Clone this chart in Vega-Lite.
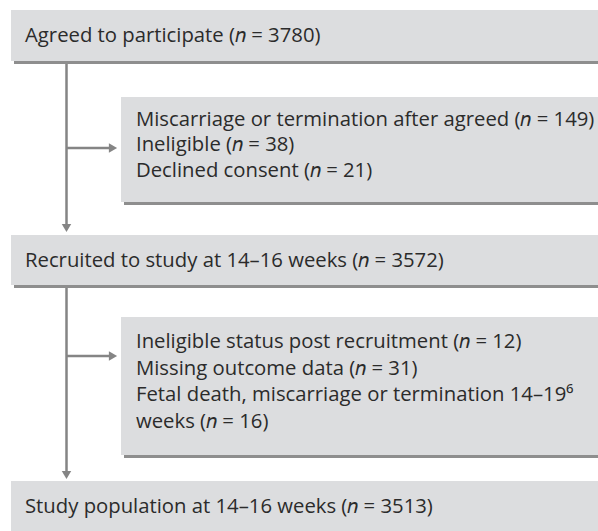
{
  "$schema": "https://vega.github.io/schema/vega-lite/v6.json",
  "width": 598,
  "height": 531,
  "autosize": {"type": "fit", "contains": "padding"},
  "padding": 0,
  "background": "white",
  "config": {"view": {"stroke": null}},
  "datasets": {
    "shadows": [
      {"x": 14, "x2": 598, "y": 13, "y2": 64},
      {"x": 124, "x2": 598, "y": 100, "y2": 205},
      {"x": 14, "x2": 598, "y": 238, "y2": 288},
      {"x": 124, "x2": 598, "y": 320, "y2": 458}
    ],
    "boxes": [
      {"x": 11, "x2": 598, "y": 10, "y2": 61},
      {"x": 121, "x2": 598, "y": 97, "y2": 202},
      {"x": 11, "x2": 598, "y": 235, "y2": 285},
      {"x": 121, "x2": 598, "y": 317, "y2": 455},
      {"x": 11, "x2": 598, "y": 481, "y2": 531}
    ],
    "lines": [
      {"x": 66.5, "x2": 66.5, "y": 64, "y2": 226},
      {"x": 66.5, "x2": 110, "y": 148, "y2": 148},
      {"x": 66.5, "x2": 66.5, "y": 288, "y2": 473},
      {"x": 66.5, "x2": 110, "y": 356, "y2": 356}
    ],
    "heads": [
      {"x": 66.5, "y": 228, "shape": "triangle-down"},
      {"x": 113, "y": 148, "shape": "triangle-right"},
      {"x": 66.5, "y": 475, "shape": "triangle-down"},
      {"x": 113, "y": 356, "shape": "triangle-right"}
    ],
    "texts": [
      {"x": 25, "y": 36, "t": "Agreed to participate (𝑛 = 3780)"},
      {"x": 136, "y": 119.5, "t": "Miscarriage or termination after agreed (𝑛 = 149)"},
      {"x": 136, "y": 145, "t": "Ineligible (𝑛 = 38)"},
      {"x": 136, "y": 170.5, "t": "Declined consent (𝑛 = 21)"},
      {"x": 25, "y": 261, "t": "Recruited to study at 14–16 weeks (𝑛 = 3572)"},
      {"x": 136, "y": 342, "t": "Ineligible status post recruitment (𝑛 = 12)"},
      {"x": 136, "y": 368.5, "t": "Missing outcome data (𝑛 = 31)"},
      {"x": 136, "y": 395, "t": "Fetal death, miscarriage or termination 14–19⁶"},
      {"x": 136, "y": 421.5, "t": "weeks (𝑛 = 16)"},
      {"x": 25, "y": 507, "t": "Study population at 14–16 weeks (𝑛 = 3513)"}
    ]
  },
  "layer": [
    {
      "data": {"name": "shadows"},
      "mark": {"type": "rect", "color": "#8e8e8e"},
      "encoding": {
        "x": {"field": "x", "type": "quantitative", "scale": {"domain": [0, 598], "nice": false, "zero": false}, "axis": null},
        "x2": {"field": "x2"},
        "y": {"field": "y", "type": "quantitative", "scale": {"domain": [0, 531], "nice": false, "zero": false, "reverse": true}, "axis": null},
        "y2": {"field": "y2"}
      }
    },
    {
      "data": {"name": "boxes"},
      "mark": {"type": "rect", "color": "#dcdddf"},
      "encoding": {
        "x": {"field": "x", "type": "quantitative"},
        "x2": {"field": "x2"},
        "y": {"field": "y", "type": "quantitative"},
        "y2": {"field": "y2"}
      }
    },
    {
      "data": {"name": "lines"},
      "mark": {"type": "rule", "color": "#858585", "strokeWidth": 2.5},
      "encoding": {
        "x": {"field": "x", "type": "quantitative"},
        "x2": {"field": "x2"},
        "y": {"field": "y", "type": "quantitative"},
        "y2": {"field": "y2"}
      }
    },
    {
      "data": {"name": "heads"},
      "mark": {"type": "point", "filled": true, "color": "#858585", "size": 90, "opacity": 1},
      "encoding": {
        "x": {"field": "x", "type": "quantitative"},
        "y": {"field": "y", "type": "quantitative"},
        "shape": {"field": "shape", "type": "nominal", "scale": null, "legend": null}
      }
    },
    {
      "data": {"name": "texts"},
      "mark": {"type": "text", "align": "left", "baseline": "middle", "font": "Open Sans", "fontSize": 20.3, "color": "#2b2b2b"},
      "encoding": {
        "x": {"field": "x", "type": "quantitative"},
        "y": {"field": "y", "type": "quantitative"},
        "text": {"field": "t"}
      }
    }
  ]
}
